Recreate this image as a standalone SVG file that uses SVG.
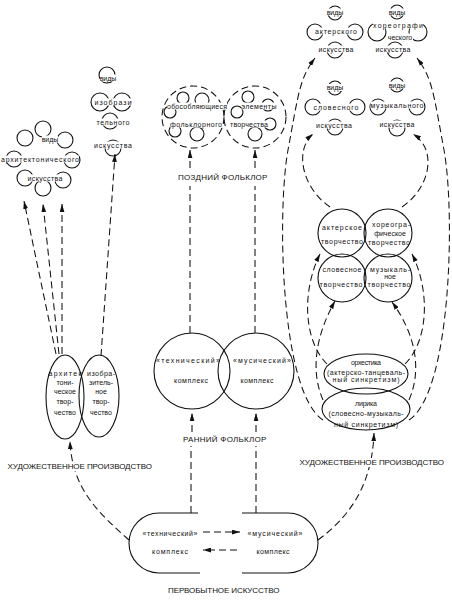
<svg xmlns="http://www.w3.org/2000/svg" width="452" height="601" viewBox="0 0 452 601">
<defs>
<marker id="ah" viewBox="0 0 10 6" refX="10" refY="3" markerWidth="8" markerHeight="5" markerUnits="userSpaceOnUse" orient="auto"><path d="M0,0 L10,3 L0,6 z" fill="#111"/></marker>
</defs>
<style>
.n{fill:none;stroke:#111;stroke-width:1.1}
.d{fill:none;stroke:#111;stroke-width:1.05;stroke-dasharray:7 4}
.a{marker-end:url(#ah)}
.w{fill:#fff}
text{font-family:"Liberation Sans","DejaVu Sans",sans-serif;fill:#111;text-anchor:middle}
.t{font-size:7px}
.L{font-size:8px;letter-spacing:.6px}
</style>
<rect width="452" height="601" fill="#fff"/>

<g id="connectors">
<path class="d" d="M191 513 V446"/>
<path class="d a" d="M192 432 V413"/>
<path class="d" d="M256 513 V446"/>
<path class="d a" d="M256 432 V413"/>
<path class="d" d="M190 333 V186"/>
<path class="d a" d="M190 168 V150"/>
<path class="d" d="M255 333 V186"/>
<path class="d a" d="M255 168 V150"/>
<path class="d a" d="M129 540 C100 514 72 490 70 441"/>
<path class="d a" d="M318 540 C345 520 372 490 374 433"/>
<path class="d a" d="M56 354 L24 201"/>
<path class="d a" d="M59 354 L43 204"/>
<path class="d a" d="M62 354 L62 204"/>
<path class="d a" d="M101 356 L115 154"/>
<path class="d a" d="M203 532 H240"/>
<path class="d a" d="M237 550 H203"/>
<path class="d a" d="M323 420 C280 392 277 210 288 150 S300 78 315 58"/>
<path class="d a" d="M330 207 C302 188 294 150 313 134"/>
<path class="d a" d="M327 364 C303 340 302 290 320 254"/>
<path class="d a" d="M323 400 C310 370 316 335 335 301"/>
<path class="d a" d="M409 420 C452 392 455 210 444 150 S432 78 417 58"/>
<path class="d a" d="M402 207 C430 188 438 150 413 134"/>
<path class="d a" d="M405 364 C429 340 430 290 412 254"/>
<path class="d a" d="M409 400 C422 370 416 335 392 302"/>
</g>

<g id="primitive-art">
<path class="n" d="M198 513 H159 A30 30 0 0 0 159 573 H200"/>
<path class="n" d="M242 513 H288 A30 30 0 0 1 288 573 H242"/>
<text class="t" x="170" y="535.5" textLength="55">«технический»</text>
<text class="t" x="275" y="535.5" textLength="55">«мусический»</text>
<text class="t" x="170" y="553.5" textLength="36">комплекс</text>
<text class="t" x="273" y="553.5" textLength="33">комплекс</text>
</g>
<text class="L" x="224" y="593" textLength="112">ПЕРВОБЫТНОЕ ИСКУССТВО</text>

<g id="early-technical">
<circle class="n" cx="192" cy="371" r="38"/>
<text class="t" x="188" y="362.5" textLength="64">«технический»</text>
<text class="t" x="191" y="382.5" textLength="34">комплекс</text>
</g>
<g id="early-music">
<circle class="n" cx="256" cy="371" r="38"/>
<text class="t" x="262" y="362.5" textLength="58">«мусический»</text>
<text class="t" x="257" y="382.5" textLength="33">комплекс</text>
</g>
<text class="L" x="225" y="442" textLength="84">РАННИЙ ФОЛЬКЛОР</text>

<g id="late-folklore">
<circle class="d" cx="193" cy="117" r="31"/>
<circle class="d" cx="255" cy="117" r="31"/>
<circle class="n" cx="183" cy="98" r="6"/>
<circle class="n" cx="202" cy="100" r="7"/>
<circle class="n" cx="170" cy="112" r="6"/>
<circle class="n" cx="175" cy="131" r="6"/>
<circle class="n" cx="197" cy="134" r="7"/>
<circle class="n" cx="248" cy="97" r="6"/>
<circle class="n" cx="268" cy="105" r="6"/>
<circle class="n" cx="237" cy="112" r="6"/>
<circle class="n" cx="270" cy="124" r="6"/>
<circle class="n" cx="255" cy="134" r="7"/>
<rect class="w" x="167" y="102.5" width="60" height="7"/>
<rect class="w" x="241.5" y="102.5" width="35" height="7"/>
<rect class="w" x="170" y="120.5" width="52" height="7"/>
<rect class="w" x="230" y="120.5" width="38" height="7"/>
<text class="t" x="197" y="108.5" textLength="60">обособляющиеся</text>
<text class="t" x="259" y="108.5" textLength="35">элементы</text>
<text class="t" x="196" y="126.5" textLength="52">фольклорного</text>
<text class="t" x="249" y="126.5" textLength="38">творчества</text>
</g>
<text class="L" x="223" y="180" textLength="90">ПОЗДНИЙ ФОЛЬКЛОР</text>

<g id="architectonic-creation">
<ellipse class="n" cx="65" cy="397" rx="19" ry="42"/>
<text class="t" x="65" y="375.5" textLength="33">архитек</text>
<text class="t" x="65" y="384.5">тони-</text>
<text class="t" x="65" y="393.5">ческое</text>
<text class="t" x="65" y="403.5">твор-</text>
<text class="t" x="65" y="414.5">чество</text>
</g>
<g id="pictorial-creation">
<ellipse class="n" cx="99" cy="396" rx="20" ry="41"/>
<text class="t" x="101" y="375.5" textLength="28">изобра-</text>
<text class="t" x="101" y="384.5">зитель-</text>
<text class="t" x="101" y="393.5">ное</text>
<text class="t" x="101" y="403.5">твор-</text>
<text class="t" x="101" y="414.5">чество</text>
</g>
<rect class="w" x="6" y="462" width="148" height="9"/>
<text class="L" x="80" y="469" textLength="145">ХУДОЖЕСТВЕННОЕ ПРОИЗВОДСТВО</text>

<g id="arch-kinds">
<circle class="n" cx="43" cy="129" r="8"/>
<circle class="n" cx="25" cy="138" r="8"/>
<circle class="n" cx="65" cy="140" r="8"/>
<circle class="n" cx="14" cy="159" r="8"/>
<circle class="n" cx="72" cy="160" r="8"/>
<circle class="n" cx="25" cy="178" r="8"/>
<circle class="n" cx="43" cy="188" r="8"/>
<circle class="n" cx="63" cy="180" r="8"/>
<rect class="w" x="42" y="135.5" width="16" height="7"/>
<rect class="w" x="1" y="155.5" width="78" height="7"/>
<rect class="w" x="27.5" y="174.5" width="35" height="7"/>
<text class="t" x="50" y="141.5">виды</text>
<text class="t" x="40" y="161.5" textLength="78">архитектонического</text>
<text class="t" x="45" y="180.5" textLength="35">искусства</text>
</g>

<g id="pict-kinds">
<circle class="n" cx="107" cy="75" r="8"/>
<circle class="n" cx="100" cy="102" r="9"/>
<circle class="n" cx="122" cy="102" r="9"/>
<circle class="n" cx="110" cy="121" r="8"/>
<circle class="n" cx="113" cy="148" r="8"/>
<rect class="w" x="100" y="74.5" width="16" height="7"/>
<rect class="w" x="94.5" y="98.5" width="37" height="7"/>
<rect class="w" x="96.5" y="118.5" width="33" height="7"/>
<rect class="w" x="94" y="141.5" width="38" height="7"/>
<text class="t" x="108" y="80.5">виды</text>
<text class="t" x="113" y="104.5" textLength="37">изобрази</text>
<text class="t" x="113" y="124.5" textLength="33">тельного</text>
<text class="t" x="113" y="147.5" textLength="38">искусства</text>
</g>

<g id="actor-kinds">
<circle class="n" cx="335" cy="13" r="7"/>
<circle class="n" cx="315" cy="32" r="8"/>
<circle class="n" cx="355" cy="32" r="8"/>
<circle class="n" cx="335" cy="50" r="8"/>
<rect class="w" x="327" y="8.5" width="16" height="7"/>
<rect class="w" x="315" y="27.5" width="42" height="7"/>
<rect class="w" x="318.5" y="45.5" width="35" height="7"/>
<text class="t" x="335" y="14.5">виды</text>
<text class="t" x="336" y="33.5" textLength="42">актерского</text>
<text class="t" x="336" y="51.5" textLength="35">искусства</text>
</g>
<g id="choreo-kinds">
<circle class="n" cx="397" cy="12" r="7"/>
<circle class="n" cx="377" cy="32" r="9"/>
<circle class="n" cx="418" cy="32" r="9"/>
<circle class="n" cx="395" cy="50" r="8"/>
<rect class="w" x="389" y="8.5" width="16" height="7"/>
<rect class="w" x="373" y="21.5" width="50" height="7"/>
<rect class="w" x="387" y="33.5" width="26" height="7"/>
<rect class="w" x="375.5" y="45.5" width="35" height="7"/>
<text class="t" x="397" y="14.5">виды</text>
<text class="t" x="398" y="27.5" textLength="50">хореографи</text>
<text class="t" x="400" y="39.5">ческого</text>
<text class="t" x="393" y="51.5" textLength="35">искусства</text>
</g>
<g id="verbal-kinds">
<circle class="n" cx="335" cy="88" r="7"/>
<circle class="n" cx="313" cy="107" r="8"/>
<circle class="n" cx="357" cy="107" r="8"/>
<circle class="n" cx="335" cy="127" r="8"/>
<rect class="w" x="327" y="84" width="16" height="7"/>
<rect class="w" x="313.5" y="103.5" width="45" height="7"/>
<rect class="w" x="316" y="121.5" width="36" height="7"/>
<text class="t" x="335" y="90">виды</text>
<text class="t" x="336" y="109.5" textLength="45">словесного</text>
<text class="t" x="334" y="127.5" textLength="36">искусства</text>
</g>
<g id="music-kinds">
<circle class="n" cx="397" cy="85" r="7"/>
<circle class="n" cx="378" cy="107" r="8"/>
<circle class="n" cx="417" cy="107" r="8"/>
<circle class="n" cx="397" cy="128" r="8"/>
<rect class="w" x="389" y="81.5" width="16" height="7"/>
<rect class="w" x="370.5" y="101.5" width="53" height="7"/>
<rect class="w" x="379.5" y="120.5" width="35" height="7"/>
<text class="t" x="397" y="87.5">виды</text>
<text class="t" x="397" y="107.5" textLength="53">музыкального</text>
<text class="t" x="397" y="126.5" textLength="35">искусства</text>
</g>

<g id="actor-creation">
<circle class="n" cx="342" cy="233" r="24"/>
<text class="t" x="342" y="229.5" textLength="40">актерское</text>
<text class="t" x="342" y="243.5" textLength="42">творчество</text>
</g>
<g id="choreo-creation">
<circle class="n" cx="388" cy="233" r="24"/>
<text class="t" x="391" y="226.5" textLength="38">хореогра-</text>
<text class="t" x="390" y="235.5">фическое</text>
<text class="t" x="389" y="244.5" textLength="42">творчество</text>
</g>
<g id="verbal-creation">
<circle class="n" cx="342" cy="278" r="24"/>
<text class="t" x="342" y="271.5" textLength="39">словесное</text>
<text class="t" x="341" y="286.5" textLength="43">творчество</text>
</g>
<g id="music-creation">
<circle class="n" cx="388" cy="278" r="24"/>
<text class="t" x="390" y="271.5" textLength="40">музыкаль-</text>
<text class="t" x="390" y="278.5">ное</text>
<text class="t" x="389" y="286.5" textLength="43">творчество</text>
</g>

<g id="orchestics">
<ellipse class="n" cx="366" cy="374" rx="42" ry="20"/>
<text class="t" x="366" y="364.5" textLength="30">орхестика</text>
<text class="t" x="366" y="374.5" textLength="78">(актерско-танцеваль-</text>
<text class="t" x="366" y="381.5" textLength="67">ный синкретизм)</text>
</g>
<g id="lyrics">
<ellipse class="n" cx="366" cy="409" rx="44" ry="21"/>
<text class="t" x="366" y="405.5" textLength="22">лирика</text>
<text class="t" x="366" y="415.5" textLength="75">(словесно-музыкаль-</text>
<text class="t" x="366" y="426.5" textLength="64">ный синкретизм)</text>
</g>
<rect class="w" x="298" y="458" width="149" height="9"/>
<text class="L" x="372" y="465" textLength="145">ХУДОЖЕСТВЕННОЕ ПРОИЗВОДСТВО</text>
</svg>
